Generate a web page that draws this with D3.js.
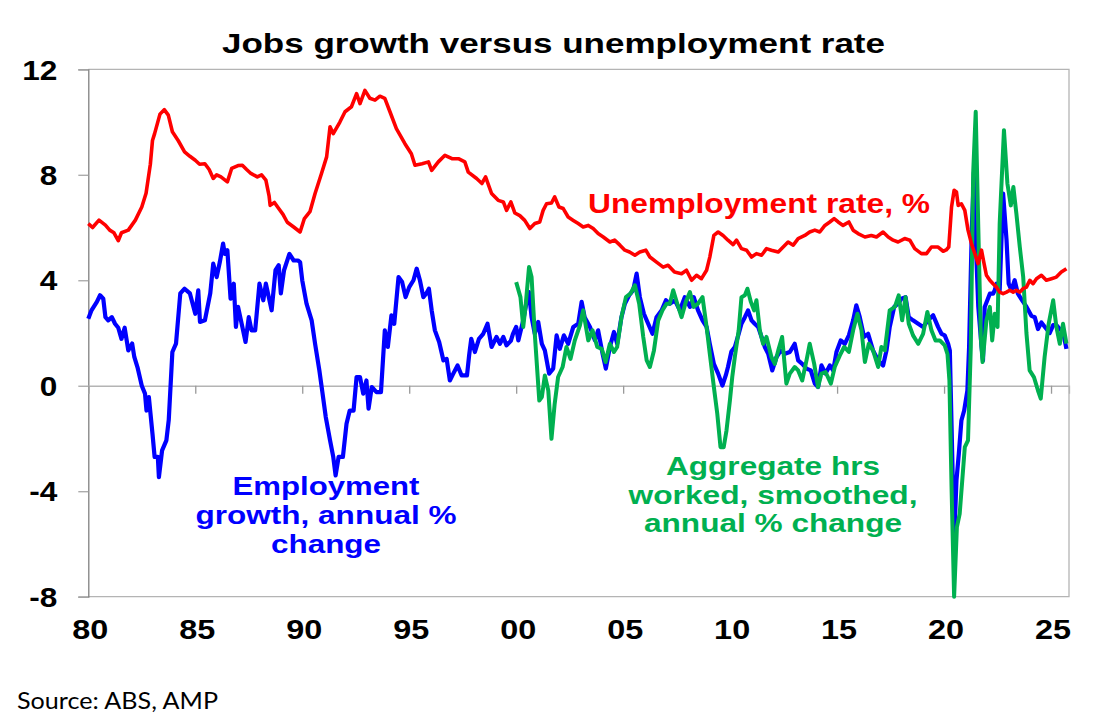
<!DOCTYPE html>
<html lang="en">
<head>
<meta charset="utf-8">
<script type="text/javascript" src="https://cdnjs.cloudflare.com/ajax/libs/d3/7.8.5/d3.min.js"></script>
<style>
    body { margin: 0; background: #fff; }
    svg { display: block; }
</style>
</head>
<body>
<div id="container"></div>
<script type="text/javascript">
    var w = 1103;
    var h = 726;

    // year (decimal), value
    var unemployment = [
        [1980.0, 6.15], [1980.2, 6.0], [1980.5, 6.28], [1980.8, 6.09], [1981.0, 5.9], [1981.2, 5.8],
        [1981.4, 5.5], [1981.55, 5.8], [1981.87, 5.9], [1982.2, 6.28], [1982.5, 6.78], [1982.7, 7.3],
        [1982.9, 8.4], [1983.0, 9.3], [1983.1, 9.56], [1983.35, 10.3], [1983.55, 10.47], [1983.74, 10.26],
        [1983.93, 9.63], [1984.2, 9.3], [1984.5, 8.87], [1984.75, 8.7], [1985.0, 8.55], [1985.2, 8.4],
        [1985.45, 8.42], [1985.65, 8.2], [1985.84, 7.86], [1986.0, 8.0], [1986.2, 7.92], [1986.5, 7.73],
        [1986.7, 8.24], [1987.0, 8.35], [1987.2, 8.36], [1987.4, 8.2], [1987.6, 8.05], [1987.9, 7.92],
        [1988.1, 8.0], [1988.3, 7.8], [1988.45, 7.2], [1988.5, 6.84], [1988.7, 6.95], [1988.9, 6.72],
        [1989.1, 6.5], [1989.3, 6.2], [1989.6, 6.02], [1989.9, 5.83], [1990.1, 6.34], [1990.36, 6.6],
        [1990.6, 7.29], [1990.9, 8.05], [1991.14, 8.68], [1991.3, 9.82], [1991.45, 9.56], [1991.76, 10.0],
        [1992.0, 10.39], [1992.3, 10.58], [1992.54, 11.08], [1992.7, 10.7], [1992.93, 11.2], [1993.16, 10.9],
        [1993.4, 10.83], [1993.63, 10.98], [1993.86, 10.9], [1994.1, 10.39], [1994.4, 9.75], [1994.8, 9.18],
        [1995.1, 8.8], [1995.27, 8.36], [1995.6, 8.42], [1995.9, 8.49], [1996.05, 8.17], [1996.36, 8.49],
        [1996.67, 8.74], [1997.0, 8.61], [1997.3, 8.61], [1997.6, 8.49], [1997.76, 8.1], [1998.15, 7.86],
        [1998.4, 7.67], [1998.57, 7.92], [1998.85, 7.29], [1999.16, 7.03], [1999.4, 6.97], [1999.55, 6.65],
        [1999.75, 6.97], [1999.94, 6.55], [2000.17, 6.45], [2000.4, 6.27], [2000.64, 5.96], [2000.87, 6.15],
        [2001.1, 6.21], [2001.26, 6.65], [2001.42, 6.9], [2001.65, 6.93], [2001.8, 7.16], [2002.0, 6.78],
        [2002.2, 6.72], [2002.43, 6.4], [2002.67, 6.27], [2002.9, 6.15], [2003.13, 6.02], [2003.37, 6.08],
        [2003.6, 5.96], [2003.83, 5.77], [2004.07, 5.64], [2004.38, 5.45], [2004.6, 5.52], [2004.85, 5.33],
        [2005.08, 5.14], [2005.3, 5.07], [2005.55, 4.95], [2005.78, 5.07], [2006.06, 5.14], [2006.25, 4.88],
        [2006.56, 4.69], [2006.87, 4.5], [2007.1, 4.57], [2007.4, 4.31], [2007.73, 4.25], [2007.96, 4.38],
        [2008.2, 4.0], [2008.43, 4.19], [2008.66, 4.06], [2008.9, 4.38], [2009.05, 4.88], [2009.24, 5.7],
        [2009.44, 5.83], [2009.67, 5.7], [2009.9, 5.52], [2010.14, 5.35], [2010.3, 5.52], [2010.53, 5.2],
        [2010.77, 5.14], [2011.0, 4.88], [2011.23, 5.01], [2011.47, 4.95], [2011.7, 5.2], [2011.93, 5.14],
        [2012.25, 5.07], [2012.48, 5.26], [2012.71, 5.45], [2012.95, 5.33], [2013.18, 5.58], [2013.49, 5.7],
        [2013.72, 5.83], [2013.96, 5.9], [2014.19, 5.83], [2014.43, 6.08], [2014.66, 6.21], [2014.86, 6.34],
        [2015.05, 6.21], [2015.28, 6.08], [2015.55, 6.21], [2015.75, 5.9], [2015.98, 5.77], [2016.3, 5.64],
        [2016.6, 5.7], [2016.84, 5.64], [2017.15, 5.83], [2017.39, 5.64], [2017.62, 5.52], [2017.85, 5.45],
        [2018.16, 5.58], [2018.4, 5.52], [2018.63, 5.2], [2018.94, 5.01], [2019.18, 5.01], [2019.41, 5.26],
        [2019.72, 5.26], [2019.96, 5.1], [2020.1, 5.15], [2020.22, 5.26], [2020.35, 6.78], [2020.47, 7.41],
        [2020.58, 7.35], [2020.66, 6.84], [2020.81, 6.9], [2020.97, 6.65], [2021.12, 5.9], [2021.28, 5.39],
        [2021.44, 5.01], [2021.59, 4.63], [2021.75, 5.14], [2021.87, 4.63], [2021.98, 4.19], [2022.14, 4.0],
        [2022.29, 3.87], [2022.45, 3.74], [2022.6, 3.55], [2022.76, 3.49], [2022.92, 3.55], [2023.07, 3.62],
        [2023.23, 3.55], [2023.38, 3.62], [2023.54, 3.55], [2023.69, 3.68], [2023.85, 3.74], [2024.01, 4.0],
        [2024.16, 3.87], [2024.32, 4.06], [2024.55, 4.19], [2024.78, 4.0], [2025.02, 4.06], [2025.25, 4.12],
        [2025.48, 4.31], [2025.72, 4.44]
    ];

    var employment = [
        [1980.0, 2.54], [1980.15, 2.86], [1980.4, 3.18], [1980.55, 3.43], [1980.7, 3.3], [1980.8, 2.6],
        [1980.93, 2.48], [1981.1, 2.6], [1981.25, 2.35], [1981.4, 2.2], [1981.55, 1.78], [1981.7, 2.2],
        [1981.87, 1.34], [1982.05, 1.6], [1982.15, 1.09], [1982.3, 0.7], [1982.5, 0.0], [1982.65, -0.3],
        [1982.72, -0.94], [1982.83, -0.43], [1983.0, -1.82], [1983.1, -2.7], [1983.25, -2.7], [1983.3, -3.47],
        [1983.45, -2.45], [1983.65, -2.07], [1983.76, -1.3], [1983.93, 1.28], [1984.1, 1.6], [1984.3, 3.5],
        [1984.5, 3.68], [1984.75, 3.5], [1985.0, 2.73], [1985.14, 3.62], [1985.22, 2.42], [1985.45, 2.48],
        [1985.7, 3.5], [1985.84, 4.63], [1986.0, 4.12], [1986.15, 4.7], [1986.3, 5.39], [1986.38, 5.0],
        [1986.5, 5.14], [1986.65, 3.3], [1986.8, 3.87], [1986.9, 2.23], [1987.0, 2.99], [1987.2, 2.23],
        [1987.35, 1.66], [1987.5, 2.6], [1987.63, 2.1], [1987.8, 2.1], [1988.0, 3.87], [1988.18, 3.24],
        [1988.3, 3.87], [1988.57, 2.86], [1988.75, 4.38], [1988.9, 4.57], [1989.0, 3.5], [1989.15, 4.38],
        [1989.4, 5.0], [1989.6, 4.75], [1989.8, 4.75], [1989.9, 4.69], [1990.0, 4.0], [1990.2, 3.11],
        [1990.44, 2.48], [1990.6, 1.59], [1990.8, 0.58], [1990.94, -0.24], [1991.1, -1.19], [1991.3, -2.07],
        [1991.45, -2.7], [1991.56, -3.4], [1991.7, -2.7], [1991.9, -2.7], [1992.07, -1.44], [1992.22, -0.94],
        [1992.4, -0.94], [1992.54, 0.33], [1992.7, 0.33], [1992.85, -0.3], [1993.0, 0.2], [1993.1, -0.87],
        [1993.25, -0.05], [1993.47, -0.24], [1993.68, -0.24], [1993.86, 2.1], [1994.0, 1.47], [1994.17, 2.67],
        [1994.3, 2.35], [1994.5, 4.12], [1994.67, 3.93], [1994.83, 3.36], [1995.0, 3.74], [1995.2, 4.0],
        [1995.35, 4.44], [1995.5, 4.0], [1995.66, 3.36], [1995.8, 3.5], [1995.92, 3.68], [1996.05, 2.86],
        [1996.2, 2.1], [1996.4, 1.66], [1996.6, 0.96], [1996.75, 1.02], [1996.9, 0.2], [1997.06, 0.46],
        [1997.26, 0.77], [1997.45, 0.39], [1997.7, 0.39], [1997.8, 1.15], [1997.9, 1.78], [1998.07, 1.28],
        [1998.26, 1.78], [1998.46, 1.97], [1998.66, 2.35], [1998.85, 1.47], [1999.08, 1.85], [1999.24, 1.59],
        [1999.4, 1.85], [1999.55, 1.53], [1999.75, 1.7], [1999.85, 1.97], [2000.0, 2.23], [2000.1, 1.72],
        [2000.33, 2.48], [2000.5, 3.24], [2000.6, 3.55], [2000.72, 2.6], [2000.87, 1.97], [2001.03, 2.42],
        [2001.2, 1.59], [2001.34, 1.34], [2001.54, 0.46], [2001.73, 0.65], [2001.89, 1.91], [2002.04, 1.4],
        [2002.23, 1.91], [2002.43, 1.59], [2002.67, 2.23], [2002.9, 2.35], [2003.06, 3.18], [2003.2, 2.6],
        [2003.45, 2.23], [2003.68, 1.72], [2003.83, 2.1], [2004.04, 1.21], [2004.19, 0.65], [2004.38, 1.47],
        [2004.57, 2.04], [2004.72, 1.59], [2004.92, 2.6], [2005.08, 3.11], [2005.28, 3.43], [2005.47, 3.62],
        [2005.63, 4.25], [2005.78, 3.36], [2005.97, 2.73], [2006.17, 2.35], [2006.37, 1.97], [2006.56, 2.6],
        [2006.8, 2.86], [2007.0, 3.24], [2007.18, 3.11], [2007.42, 3.24], [2007.65, 2.86], [2007.88, 3.36],
        [2008.12, 2.99], [2008.3, 3.36], [2008.5, 2.86], [2008.71, 2.48], [2008.9, 2.23], [2009.05, 1.59],
        [2009.24, 0.83], [2009.44, 0.46], [2009.64, 0.01], [2009.8, 0.4], [2009.9, 0.71], [2010.06, 1.3],
        [2010.22, 1.47], [2010.4, 1.97], [2010.53, 2.35], [2010.69, 2.6], [2010.84, 2.86], [2011.0, 2.48],
        [2011.15, 2.35], [2011.31, 2.23], [2011.47, 1.85], [2011.62, 1.47], [2011.78, 1.21], [2011.97, 0.58],
        [2012.17, 1.09], [2012.37, 1.34], [2012.56, 1.21], [2012.79, 1.28], [2013.02, 1.59], [2013.18, 0.96],
        [2013.37, 0.83], [2013.57, 0.65], [2013.77, 0.58], [2013.96, 0.08], [2014.11, -0.05], [2014.27, 0.77],
        [2014.46, 0.46], [2014.66, 0.77], [2014.82, 0.58], [2014.97, 1.28], [2015.17, 1.72], [2015.36, 1.59],
        [2015.55, 1.91], [2015.75, 2.48], [2015.9, 3.05], [2016.06, 2.6], [2016.26, 1.85], [2016.45, 1.97],
        [2016.68, 1.34], [2016.92, 0.96], [2017.15, 0.77], [2017.31, 1.34], [2017.46, 2.23], [2017.67, 2.99],
        [2017.85, 3.11], [2018.01, 3.3], [2018.2, 3.36], [2018.35, 2.6], [2018.55, 2.48], [2018.79, 2.35],
        [2019.02, 2.23], [2019.25, 2.48], [2019.49, 2.67], [2019.72, 2.23], [2019.88, 1.97], [2020.03, 1.91],
        [2020.19, 1.59], [2020.27, 1.34], [2020.35, -1.5], [2020.47, -5.87], [2020.58, -3.59], [2020.69, -2.58],
        [2020.81, -1.32], [2020.94, -0.94], [2021.09, -0.18], [2021.17, 1.47], [2021.3, 6.0], [2021.4, 8.1],
        [2021.48, 5.5], [2021.6, 3.0], [2021.75, 1.5], [2021.82, 0.96], [2021.9, 2.99], [2022.05, 3.3],
        [2022.14, 3.49], [2022.29, 3.49], [2022.37, 3.62], [2022.45, 3.87], [2022.6, 3.62], [2022.76, 7.29],
        [2022.92, 5.52], [2023.02, 3.87], [2023.15, 3.62], [2023.3, 4.0], [2023.45, 3.49], [2023.65, 3.24],
        [2023.85, 3.0], [2024.08, 2.65], [2024.24, 2.6], [2024.39, 2.15], [2024.55, 2.4], [2024.74, 2.2],
        [2024.94, 2.0], [2025.1, 2.3], [2025.25, 2.3], [2025.41, 2.15], [2025.56, 2.05], [2025.72, 1.4]
    ];

    var hoursWorked = [
        [2000.0, 3.93], [2000.2, 3.36], [2000.33, 2.23], [2000.45, 3.11], [2000.6, 4.5], [2000.72, 4.12],
        [2000.87, 1.97], [2001.08, -0.56], [2001.2, -0.43], [2001.34, 0.39], [2001.5, -0.18], [2001.65, -2.01],
        [2001.8, -0.68], [2001.96, 0.33], [2002.17, 0.71], [2002.35, 1.47], [2002.54, 1.02], [2002.74, 1.72],
        [2002.98, 2.29], [2003.13, 2.86], [2003.37, 1.72], [2003.57, 2.1], [2003.79, 1.47], [2004.0, 1.4],
        [2004.18, 0.9], [2004.38, 1.59], [2004.57, 1.28], [2004.72, 1.47], [2004.92, 2.6], [2005.13, 3.36],
        [2005.34, 3.49], [2005.55, 3.81], [2005.75, 3.11], [2005.94, 1.85], [2006.1, 0.96], [2006.25, 0.71],
        [2006.44, 1.34], [2006.64, 2.48], [2006.84, 2.86], [2007.03, 3.11], [2007.18, 3.11], [2007.34, 3.62],
        [2007.53, 3.11], [2007.73, 2.6], [2007.93, 3.18], [2008.12, 3.55], [2008.3, 2.99], [2008.5, 3.11],
        [2008.71, 3.36], [2008.9, 2.23], [2009.05, 1.21], [2009.24, -0.05], [2009.4, -1.06], [2009.55, -2.33],
        [2009.7, -2.33], [2009.83, -1.7], [2009.99, -0.56], [2010.1, 0.33], [2010.22, 1.09], [2010.4, 2.1],
        [2010.53, 3.36], [2010.69, 3.43], [2010.81, 3.68], [2010.97, 3.18], [2011.12, 2.86], [2011.23, 3.24],
        [2011.39, 2.1], [2011.54, 1.59], [2011.7, 1.85], [2011.93, 1.09], [2012.09, 0.83], [2012.25, 1.34],
        [2012.43, 1.85], [2012.63, 0.08], [2012.79, 0.46], [2013.02, 0.71], [2013.18, 0.58], [2013.37, 0.2],
        [2013.57, 0.96], [2013.72, 1.59], [2013.93, 0.83], [2014.11, -0.05], [2014.27, 0.46], [2014.46, 0.52],
        [2014.71, 0.08], [2014.89, 0.71], [2015.13, 1.15], [2015.33, 1.47], [2015.55, 1.28], [2015.75, 2.1],
        [2015.95, 2.73], [2016.14, 2.1], [2016.3, 0.9], [2016.48, 1.59], [2016.68, 1.34], [2016.92, 0.71],
        [2017.07, 1.47], [2017.23, 1.34], [2017.46, 2.86], [2017.7, 2.99], [2017.88, 3.43], [2018.04, 2.48],
        [2018.2, 3.36], [2018.35, 2.35], [2018.55, 1.91], [2018.79, 1.59], [2019.02, 1.97], [2019.22, 2.8],
        [2019.41, 2.1], [2019.6, 1.72], [2019.8, 1.72], [2020.03, 1.53], [2020.16, 1.2], [2020.25, 0.2],
        [2020.35, -3.85], [2020.47, -8.0], [2020.6, -5.36], [2020.73, -4.86], [2020.97, -2.33], [2021.12, -2.07],
        [2021.25, 1.47], [2021.36, 8.05], [2021.48, 10.39], [2021.6, 6.0], [2021.72, 1.8], [2021.8, 0.9],
        [2021.98, 2.48], [2022.14, 2.99], [2022.25, 1.72], [2022.37, 2.73], [2022.5, 2.23], [2022.6, 6.15],
        [2022.8, 9.69], [2022.96, 7.67], [2023.12, 6.84], [2023.24, 7.54], [2023.38, 6.53], [2023.54, 5.26],
        [2023.7, 4.12], [2023.85, 2.0], [2024.0, 0.58], [2024.2, 0.33], [2024.39, -0.18], [2024.52, -0.49],
        [2024.7, 1.09], [2024.89, 2.35], [2025.1, 3.24], [2025.25, 2.23], [2025.41, 1.59], [2025.56, 2.35],
        [2025.72, 1.6]
    ];

    var yTicks = [-8, -4, 0, 4, 8, 12];
    var xTicks = [1980, 1985, 1990, 1995, 2000, 2005, 2010, 2015, 2020, 2025];

    var svg = d3.select("#container")
                .append("svg")
                .attr("width", w)
                .attr("height", h);

    var xscale = d3.scaleLinear()
                    .domain([1980, 2025.84])
                    .range([88.3, 1069]);

    var yscale = d3.scaleLinear()
                    .domain([-8, 12])
                    .range([596.7, 69.3]);

    // stretch text horizontally like the source picture
    function stretch(sel, k) {
        sel.each(function() {
            var len = this.getComputedTextLength();
            d3.select(this).attr("textLength", len * k).attr("lengthAdjust", "spacingAndGlyphs");
        });
    }

    // frame
    svg.append("path")
        .attr("d", "M" + xscale(1980) + "," + yscale(12) + "H" + xscale(2025.84) + "V" + yscale(-8) + "H" + xscale(1980))
        .attr("fill", "none")
        .attr("stroke", "#b4b4b4")
        .attr("stroke-width", 1.3);

    // y axis
    var yAxis = svg.append("g")
        .attr("transform", "translate(" + xscale(1980) + ",0)")
        .call(d3.axisLeft(yscale).tickValues(yTicks).tickSize(10).tickPadding(21)
            .tickFormat(function(d) { return String(d); }));
    yAxis.select(".domain").attr("stroke", "#808080").attr("stroke-width", 1.3);
    yAxis.selectAll(".tick line").attr("stroke", "#a6a6a6").attr("stroke-width", 1.3);
    yAxis.selectAll(".tick text")
        .attr("font-family", "'Liberation Sans', Arial, sans-serif")
        .attr("font-weight", "bold")
        .attr("font-size", 27)
        .attr("fill", "#000")
        .attr("dy", "0.36em")
        .call(stretch, 1.17);

    // zero line with year ticks
    var zeroAxis = svg.append("g")
        .attr("transform", "translate(0," + yscale(0) + ")")
        .call(d3.axisBottom(xscale).tickValues(xTicks).tickSize(8).tickFormat(""));
    zeroAxis.select(".domain").attr("stroke", "#b4b4b4").attr("stroke-width", 1.3);
    zeroAxis.selectAll(".tick line").attr("stroke", "#9a9a9a").attr("stroke-width", 1.3);

    // year labels at the bottom
    var xAxis = svg.append("g")
        .attr("transform", "translate(1.5," + yscale(-8) + ")")
        .call(d3.axisBottom(xscale).tickValues(xTicks).tickSize(0).tickPadding(23)
            .tickFormat(function(d) { return String(d % 100).padStart(2, "0"); }));
    xAxis.select(".domain").remove();
    xAxis.selectAll(".tick text")
        .attr("font-family", "'Liberation Sans', Arial, sans-serif")
        .attr("font-weight", "bold")
        .attr("font-size", 27)
        .attr("fill", "#000")
        .call(stretch, 1.2);

    var line = d3.line()
                .x(function(d) { return xscale(d[0]); })
                .y(function(d) { return yscale(d[1]); });

    svg.append("path")
        .datum(employment)
        .attr("d", line)
        .attr("fill", "none")
        .attr("stroke", "#0000ff")
        .attr("stroke-width", 4.2)
        .attr("stroke-linejoin", "round");

    svg.append("path")
        .datum(hoursWorked)
        .attr("d", line)
        .attr("fill", "none")
        .attr("stroke", "#00b050")
        .attr("stroke-width", 4)
        .attr("stroke-linejoin", "round");

    svg.append("path")
        .datum(unemployment)
        .attr("d", line)
        .attr("fill", "none")
        .attr("stroke", "#ff0000")
        .attr("stroke-width", 3.6)
        .attr("stroke-linejoin", "round");

    // title
    svg.append("text")
        .attr("x", 553.5)
        .attr("y", 53)
        .attr("text-anchor", "middle")
        .attr("font-family", "'Liberation Sans', Arial, sans-serif")
        .attr("font-weight", "bold")
        .attr("font-size", 28)
        .attr("textLength", 663)
        .attr("lengthAdjust", "spacingAndGlyphs")
        .text("Jobs growth versus unemployment rate");

    // series labels
    var labels = [
        { lines: ["Unemployment rate, %"], widths: [342], x: 759, y: 213, gap: 0, size: 27, color: "#ff0000" },
        { lines: ["Employment", "growth, annual %", "change"], widths: [187, 261, 110], x: 326, y: 495, gap: 29, size: 25, color: "#0000ff" },
        { lines: ["Aggregate hrs", "worked, smoothed,", "annual % change"], widths: [214, 289, 258], x: 773, y: 475, gap: 28.5, size: 25, color: "#00b050" }
    ];

    labels.forEach(function(l) {
        l.lines.forEach(function(t, i) {
            svg.append("text")
                .attr("x", l.x)
                .attr("y", l.y + i * l.gap)
                .attr("text-anchor", "middle")
                .attr("font-family", "'Liberation Sans', Arial, sans-serif")
                .attr("font-weight", "bold")
                .attr("font-size", l.size)
                .attr("fill", l.color)
                .attr("textLength", l.widths[i])
                .attr("lengthAdjust", "spacingAndGlyphs")
                .text(t);
        });
    });

    // source note
    svg.append("text")
        .attr("x", 17)
        .attr("y", 709)
        .attr("font-family", "Lato, 'Open Sans', sans-serif")
        .attr("font-size", 24)
        .attr("fill", "#000")
        .attr("textLength", 201)
        .attr("lengthAdjust", "spacingAndGlyphs")
        .text("Source: ABS, AMP");
</script>
</body>
</html>
